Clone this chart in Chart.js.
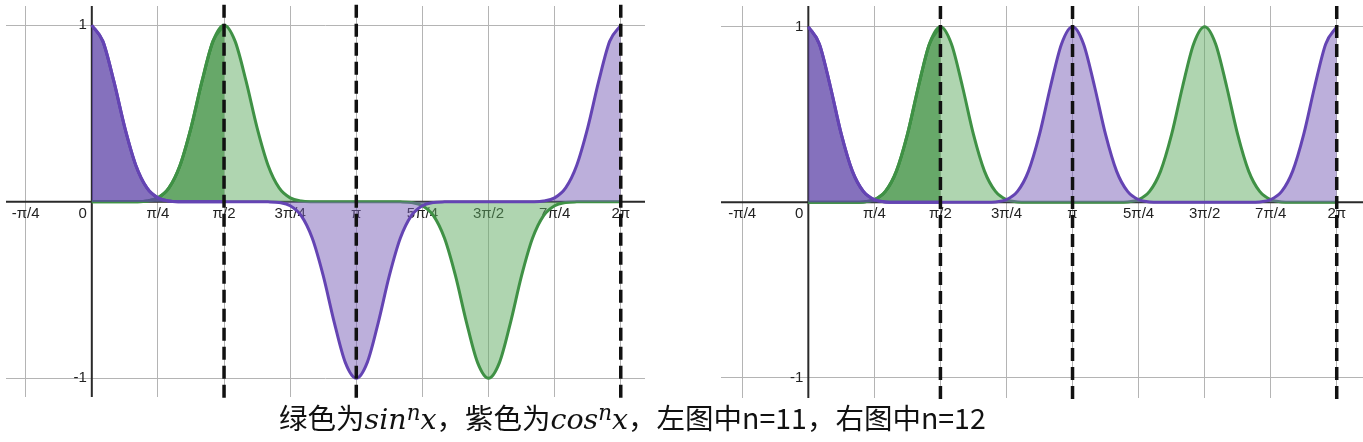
<!DOCTYPE html>
<html>
<head>
<meta charset="utf-8">
<script src="https://cdn.jsdelivr.net/npm/chart.js@4"></script>
<style>
  body { margin: 0; background: #fff; width: 1363px; height: 442px; position: relative; overflow: hidden; }
  .box { position: absolute; top: 0; }
  #leftBox { left: 0; width: 645px; height: 400px; }
  #rightBox { left: 715px; width: 648px; height: 401px; }
  #caption {
    position: absolute; left: 279px; top: 402px; white-space: nowrap;
    font-family: "Noto Sans CJK SC", sans-serif; font-size: 28.5px; line-height: 30px; color: #111;
  }
  #caption i { font-family: "DejaVu Serif", serif; font-style: italic; }
  #caption sup { font-size: 0.75em; line-height: 0; vertical-align: 0.42em; }
</style>
</head>
<body>
<div class="box" id="leftBox"><canvas id="leftChart"></canvas></div>
<div class="box" id="rightBox"><canvas id="rightChart"></canvas></div>
<div id="caption">绿色为<i>sin<sup>n</sup>x</i>，紫色为<i>cos<sup>n</sup>x</i>，左图中n=11，右图中n=12</div>
<script>
// x in degrees, one sample every 7.5 degrees (pi/24)
const xDeg = [0, 7.5, 15, 22.5, 30, 37.5, 45, 52.5, 60, 67.5, 75, 82.5, 90, 97.5, 105, 112.5, 120, 127.5,
  135, 142.5, 150, 157.5, 165, 172.5, 180, 187.5, 195, 202.5, 210, 217.5, 225, 232.5, 240, 247.5, 255,
  262.5, 270, 277.5, 285, 292.5, 300, 307.5, 315, 322.5, 330, 337.5, 345, 352.5, 360];

// left chart, n = 11
const sin11 = [0, 0, 0, 0, 0.0005, 0.0043, 0.0221, 0.0784, 0.2055, 0.4186, 0.6830, 0.9098, 1,
  0.9098, 0.6830, 0.4186, 0.2055, 0.0784, 0.0221, 0.0043, 0.0005, 0, 0, 0, 0,
  0, 0, 0, -0.0005, -0.0043, -0.0221, -0.0784, -0.2055, -0.4186, -0.6830, -0.9098, -1,
  -0.9098, -0.6830, -0.4186, -0.2055, -0.0784, -0.0221, -0.0043, -0.0005, 0, 0, 0, 0];
const cos11 = [1, 0.9098, 0.6830, 0.4186, 0.2055, 0.0784, 0.0221, 0.0043, 0.0005, 0, 0, 0, 0,
  0, 0, 0, -0.0005, -0.0043, -0.0221, -0.0784, -0.2055, -0.4186, -0.6830, -0.9098, -1,
  -0.9098, -0.6830, -0.4186, -0.2055, -0.0784, -0.0221, -0.0043, -0.0005, 0, 0, 0, 0,
  0, 0, 0, 0.0005, 0.0043, 0.0221, 0.0784, 0.2055, 0.4186, 0.6830, 0.9098, 1];

// right chart, n = 12
const sin12 = [0, 0, 0, 0, 0.0002, 0.0026, 0.0156, 0.0622, 0.1780, 0.3867, 0.6597, 0.9020, 1,
  0.9020, 0.6597, 0.3867, 0.1780, 0.0622, 0.0156, 0.0026, 0.0002, 0, 0, 0, 0,
  0, 0, 0, 0.0002, 0.0026, 0.0156, 0.0622, 0.1780, 0.3867, 0.6597, 0.9020, 1,
  0.9020, 0.6597, 0.3867, 0.1780, 0.0622, 0.0156, 0.0026, 0.0002, 0, 0, 0, 0];
const cos12 = [1, 0.9020, 0.6597, 0.3867, 0.1780, 0.0622, 0.0156, 0.0026, 0.0002, 0, 0, 0, 0,
  0, 0, 0, 0.0002, 0.0026, 0.0156, 0.0622, 0.1780, 0.3867, 0.6597, 0.9020, 1,
  0.9020, 0.6597, 0.3867, 0.1780, 0.0622, 0.0156, 0.0026, 0.0002, 0, 0, 0, 0,
  0, 0, 0, 0.0002, 0.0026, 0.0156, 0.0622, 0.1780, 0.3867, 0.6597, 0.9020, 1];

const xTickValues = [-45, 0, 45, 90, 135, 180, 225, 270, 315, 360];
const xTickLabels = ['-π/4', '0', 'π/4', 'π/2', '3π/4', 'π', '5π/4', '3π/2', '7π/4', '2π'];
const yTickValues = [-1, 0, 1];
const yTickLabels = ['-1', '0', '1'];
const dashedAt = [90, 180, 360];
const shadeEnd = 13; // darker shading over [0, pi/2]

const purpleLine = '#6444b3', purpleLight = 'rgba(121,95,183,0.5)', purpleDark = 'rgba(80,51,159,0.5)';
const greenLine = '#3f9145', greenLight = 'rgba(95,171,97,0.5)', greenDark = 'rgba(31,123,36,0.5)';

function pts(xs, ys) { return ys.map((v, i) => ({ x: xs[i], y: v })); }

const axisPlugin = {
  id: 'geoAxes',
  beforeDatasetsDraw(chart) {
    const { ctx, chartArea, scales: { x, y } } = chart;
    const x0 = x.getPixelForValue(0), y0 = y.getPixelForValue(0);
    ctx.save();
    ctx.strokeStyle = '#2a2a2a';
    ctx.lineWidth = 2;
    ctx.beginPath();
    ctx.moveTo(chartArea.left, y0); ctx.lineTo(chartArea.right, y0);
    ctx.moveTo(x0, chartArea.top); ctx.lineTo(x0, chartArea.bottom);
    ctx.stroke();
    ctx.fillStyle = '#222';
    ctx.font = '15px "Liberation Sans", Arial, sans-serif';
    ctx.textBaseline = 'middle';
    ctx.textAlign = 'center';
    xTickValues.forEach((v, i) => {
      if (v !== 0) ctx.fillText(xTickLabels[i], x.getPixelForValue(v), y0 + 12);
    });
    ctx.textAlign = 'right';
    ctx.fillText('0', x0 - 5, y0 + 12);
    yTickValues.forEach((v, i) => {
      if (v !== 0) ctx.fillText(yTickLabels[i], x0 - 5, y.getPixelForValue(v));
    });
    ctx.restore();
  }
};

function makeChart(id, sinVals, cosVals, xr, yr, dashY) {
  const curve = (data, line, fillColor) => ({
    data, borderColor: line, backgroundColor: fillColor, fill: 'origin',
    borderWidth: 3, pointRadius: 0, cubicInterpolationMode: 'monotone'
  });
  const dashes = dashedAt.map(v => ({
    data: [{ x: v, y: dashY[0] }, { x: v, y: dashY[1] }],
    borderColor: '#111', borderWidth: 3.5, borderDash: [13, 6],
    pointRadius: 0, fill: false, clip: false
  }));
  new Chart(document.getElementById(id), {
    type: 'line',
    data: {
      datasets: [
        ...dashes,
        curve(pts(xDeg.slice(0, shadeEnd), cosVals.slice(0, shadeEnd)), purpleLine, purpleDark),
        curve(pts(xDeg, cosVals), purpleLine, purpleLight),
        curve(pts(xDeg.slice(0, shadeEnd), sinVals.slice(0, shadeEnd)), greenLine, greenDark),
        curve(pts(xDeg, sinVals), greenLine, greenLight)
      ]
    },
    options: {
      responsive: true, maintainAspectRatio: false, animation: false,
      layout: { padding: { left: 6, top: 6, right: 0, bottom: 3 } },
      plugins: { legend: { display: false }, tooltip: { enabled: false } },
      scales: {
        x: {
          type: 'linear', min: xr[0], max: xr[1],
          afterBuildTicks: s => { s.ticks = xTickValues.map(v => ({ value: v })); },
          ticks: { display: false },
          grid: { color: '#b4b4b4', lineWidth: 1, drawTicks: false },
          border: { display: false }
        },
        y: {
          type: 'linear', min: yr[0], max: yr[1],
          afterBuildTicks: s => { s.ticks = yTickValues.map(v => ({ value: v })); },
          ticks: { display: false },
          grid: { color: '#b4b4b4', lineWidth: 1, drawTicks: false },
          border: { display: false }
        }
      }
    },
    plugins: [axisPlugin]
  });
}

makeChart('leftChart', sin11, cos11, [-58.4, 376.5], [-1.106, 1.109], [-1.11, 1.143]);
makeChart('rightChart', sin12, cos12, [-59.5, 377.9], [-1.114, 1.118], [-1.12, 1.152]);
</script>
</body>
</html>
